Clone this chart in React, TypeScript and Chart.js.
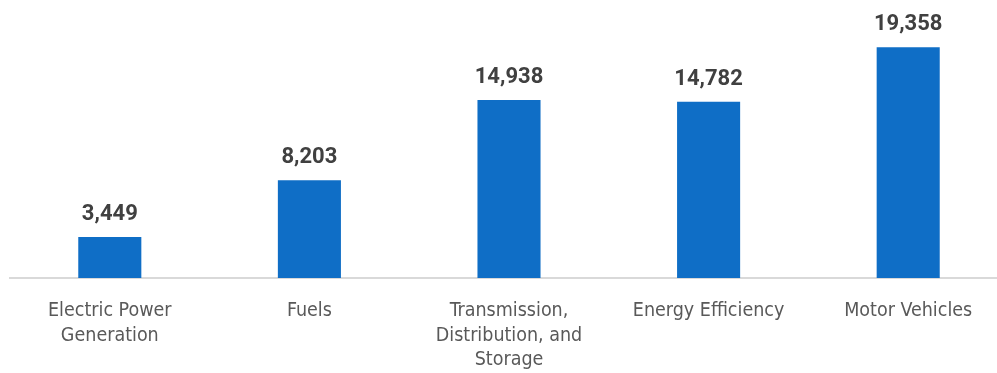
import React, { useEffect, useRef } from "react";
import { Chart, registerables } from "chart.js";

Chart.register(...registerables);

const categories: string[][] = [
  ["Electric Power", "Generation"],
  ["Fuels"],
  ["Transmission,", "Distribution, and", "Storage"],
  ["Energy Efficiency"],
  ["Motor Vehicles"],
];
const values: number[] = [3449, 8203, 14938, 14782, 19358];
const valueLabels: string[] = ["3,449", "8,203", "14,938", "14,782", "19,358"];

const valueLabelPlugin = {
  id: "valueLabels",
  afterDatasetsDraw(chart: any) {
    const ctx = chart.ctx;
    const meta = chart.getDatasetMeta(0);
    ctx.save();
    ctx.font = "bold 22px Roboto";
    ctx.fillStyle = "#404040";
    ctx.textAlign = "center";
    ctx.textBaseline = "alphabetic";
    meta.data.forEach((bar: any, i: number) => {
      ctx.fillText(valueLabels[i], bar.x, bar.y - 17);
    });
    ctx.restore();
  },
};

export default function App() {
  const ref = useRef<HTMLCanvasElement>(null);
  useEffect(() => {
    if (!ref.current) return;
    const chart = new Chart(ref.current, {
      type: "bar",
      data: {
        labels: categories,
        datasets: [
          {
            data: values,
            backgroundColor: "#0F6EC6",
            borderWidth: 0,
            categoryPercentage: 1,
            barPercentage: 0.316,
          },
        ],
      },
      options: {
        responsive: false,
        animation: false,
        layout: { padding: { left: 10, right: 0, top: 39.6, bottom: 0 } },
        plugins: { legend: { display: false }, tooltip: { enabled: false } },
        scales: {
          x: {
            grid: { display: false, drawTicks: false },
            border: { display: true, color: "#D9D9D9", width: 2 },
            ticks: {
              color: "#595959",
              font: { family: "'DejaVu Sans Condensed', Roboto, sans-serif", size: 19.5, lineHeight: 1.28 },
              padding: 20,
              maxRotation: 0,
              autoSkip: false,
            },
            afterFit: (scale: any) => {
              scale.height = 95;
            },
          },
          y: {
            display: false,
            min: 0,
            max: 20000,
          },
        },
      },
      plugins: [valueLabelPlugin],
    });
    return () => chart.destroy();
  }, []);
  return (
    <div style={{ position: "fixed", left: 0, top: 0, width: 997, height: 373, overflow: "hidden", background: "#fff" }}>
      <canvas ref={ref} width={1008} height={373} style={{ display: "block" }} />
    </div>
  );
}
